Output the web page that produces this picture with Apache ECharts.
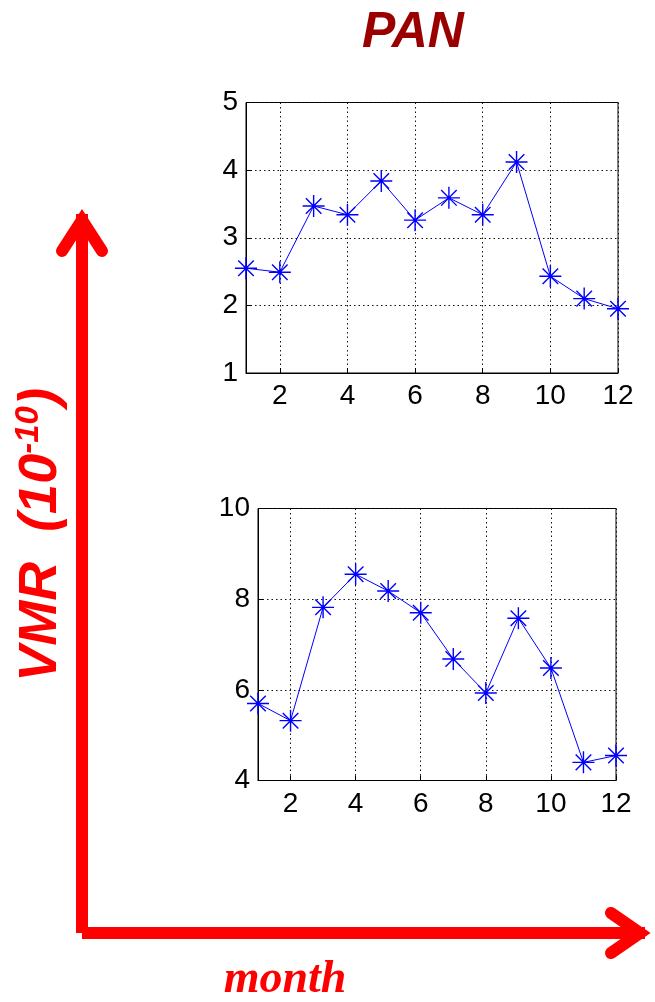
<!DOCTYPE html>
<html>
<head>
<meta charset="utf-8">
<script src="https://cdn.jsdelivr.net/npm/echarts@6/dist/echarts.min.js"></script>
<style>
html,body{margin:0;padding:0;background:#fff;}
#chart{width:655px;height:1002px;}
</style>
</head>
<body>
<div id="chart"></div>
<script>
// ---- data ----
var months = [1,2,3,4,5,6,7,8,9,10,11,12];
var panTop = [2.55,2.49,3.47,3.34,3.84,3.26,3.59,3.34,4.12,2.43,2.10,1.95];
var panBottom = [5.70,5.32,7.82,8.55,8.18,7.70,6.68,5.93,7.58,6.48,4.40,4.55];
var xTickLabels = [2,4,6,8,10,12];
var titleText = 'PAN';
var xName = 'month';

function pairs(xs, ys){ return xs.map(function(x,i){ return [x, ys[i]]; }); }

var chart = echarts.init(document.getElementById('chart'), null, {renderer:'canvas'});
var labelFont = {fontFamily:'Liberation Sans, Arial, sans-serif', fontSize:28, color:'#000'};
var star = 'path://M0,-10L0,10M-10,0L10,0M-7.07,-7.07L7.07,7.07M-7.07,7.07L7.07,-7.07';

function xAxisCfg(gi, margin){
  return {
    type:'value', gridIndex:gi, min:1, max:12,
    axisLine:{show:true, onZero:false, lineStyle:{color:'#000', width:1}},
    axisTick:{show:true, inside:true, length:5, customValues:xTickLabels, lineStyle:{color:'#000'}},
    axisLabel:Object.assign({margin:margin, customValues:xTickLabels}, labelFont),
    splitLine:{show:true, lineStyle:{color:'#111', type:[1.5,3], width:1}}
  };
}
function yAxisCfg(gi, mn, mx, iv){
  return {
    type:'value', gridIndex:gi, min:mn, max:mx, interval:iv,
    axisLine:{show:true, lineStyle:{color:'#000', width:1}},
    axisTick:{show:true, inside:true, length:5, lineStyle:{color:'#000'}},
    axisLabel:Object.assign({margin:8}, labelFont),
    splitLine:{show:true, lineStyle:{color:'#111', type:[1.5,3], width:1}}
  };
}
function seriesCfg(gi, vals){
  return {
    type:'line', xAxisIndex:gi, yAxisIndex:gi,
    data:pairs(months, vals),
    symbol:star, symbolSize:22, showAllSymbol:true,
    lineStyle:{color:'#0000ff', width:1},
    itemStyle:{color:'#0000ff', borderColor:'#0000ff', borderWidth:1.4},
    emphasis:{disabled:true}, silent:true, animation:false
  };
}

var red = '#ff0000';
var option = {
  animation:false,
  backgroundColor:'#fff',
  grid:[
    {left:246, top:102.5, width:372, height:270.5, show:true, borderColor:'#000', borderWidth:1, backgroundColor:'#fff'},
    {left:258, top:508.5, width:358, height:272, show:true, borderColor:'#000', borderWidth:1, backgroundColor:'#fff'}
  ],
  xAxis:[xAxisCfg(0, 9), xAxisCfg(1, 10)],
  yAxis:[yAxisCfg(0, 1, 5, 1), yAxisCfg(1, 4, 10, 2)],
  series:[seriesCfg(0, panTop), seriesCfg(1, panBottom)],
  graphic:[
    // vertical axis arrow
    {type:'line', shape:{x1:82, y1:214, x2:82, y2:933}, style:{stroke:red, lineWidth:12, lineCap:'butt'}, silent:true},
    {type:'polyline', shape:{points:[[62,251],[82,220],[102,251]]}, style:{stroke:red, lineWidth:12, lineCap:'round', lineJoin:'miter', fill:null}, silent:true},
    // horizontal axis arrow
    {type:'line', shape:{x1:82, y1:933, x2:645, y2:933}, style:{stroke:red, lineWidth:12, lineCap:'butt'}, silent:true},
    {type:'polyline', shape:{points:[[611,913],[640,933],[611,953]]}, style:{stroke:red, lineWidth:12, lineCap:'round', lineJoin:'miter', fill:null}, silent:true},
    // title
    {type:'text', x:413, y:33, style:{text:titleText, fill:'#9b0000', font:'italic bold 50px "Liberation Sans", Arial, sans-serif', align:'center', verticalAlign:'middle'}, silent:true},
    // x name
    {type:'text', x:285, y:980, style:{text:xName, fill:red, font:'italic bold 46px "Liberation Serif", "Times New Roman", serif', align:'center', verticalAlign:'middle'}, silent:true},
    // y name (rotated)
    {type:'text', x:41, y:535, rotation:Math.PI/2,
     style:{text:'{b|VMR  (10}{s|-10}{b|)}', align:'center', verticalAlign:'middle',
       rich:{
         b:{fill:red, fontFamily:'"Liberation Sans", Arial, sans-serif', fontStyle:'italic', fontWeight:'bold', fontSize:54, lineHeight:58},
         s:{fill:red, fontFamily:'"Liberation Sans", Arial, sans-serif', fontStyle:'italic', fontWeight:'bold', fontSize:33, lineHeight:58, verticalAlign:'top'}
       }}, silent:true}
  ]
};
chart.setOption(option);
</script>
</body>
</html>
